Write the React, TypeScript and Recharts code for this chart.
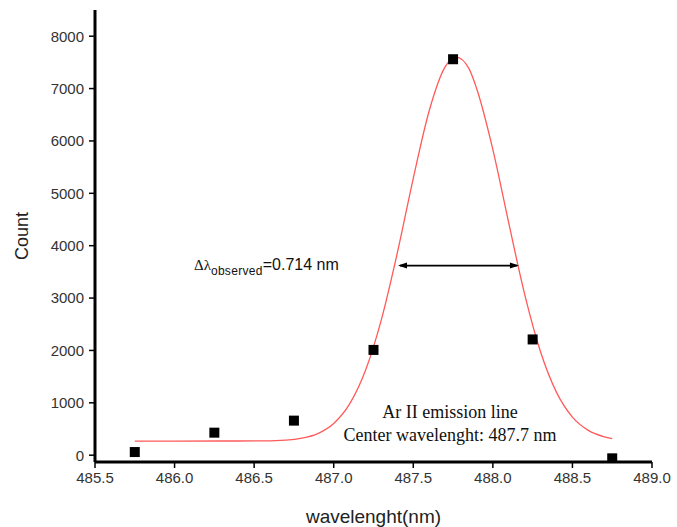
import React from 'react';
import {
  ComposedChart,
  Line,
  Scatter,
  XAxis,
  YAxis,
  ReferenceLine,
  Label,
} from 'recharts';

// measured intensities (black squares)
const wavelengths = [485.75, 486.25, 486.75, 487.25, 487.75, 488.25, 488.75];
const counts = [60, 430, 660, 2010, 7560, 2210, -60];

// gaussian fit
const fitX = [
  485.75, 486.0, 486.3, 486.5, 486.7, 486.8, 486.9, 487.0, 487.1, 487.2, 487.3, 487.4, 487.5,
  487.6, 487.7, 487.77, 487.85, 487.9, 488.0, 488.1, 488.2, 488.3, 488.4, 488.5, 488.6, 488.7, 488.75,
];
const fitY = [
  270, 270, 271, 272, 289, 325, 413, 605, 979, 1622, 2594, 3866, 5287,
  6577, 7415, 7600, 7380, 6983, 5836, 4430, 3071, 1970, 1200, 728, 474, 351, 315,
];

// FWHM marker
const fwhmStart = 487.404;
const fwhmEnd = 488.164;
const fwhmLevel = 3620;

const xTicks = [485.5, 486.0, 486.5, 487.0, 487.5, 488.0, 488.5, 489.0];
const yTicks = [0, 1000, 2000, 3000, 4000, 5000, 6000, 7000, 8000];

const measured = wavelengths.map((x, i) => ({ x, y: counts[i] }));
const fit = fitX.map((x, i) => ({ x, y: fitY[i] }));

const font = '"Liberation Sans", Arial, sans-serif';
const serif = '"Liberation Serif", "Times New Roman", serif';

const SquareDot = (props: any) => {
  const { cx, cy } = props;
  if (cx == null || cy == null) return null;
  return <rect x={cx - 5} y={cy - 5} width={10} height={10} fill="#000" />;
};

const ArrowLine = (props: any) => {
  const { x1, y1, x2, y2 } = props;
  if (x1 == null) return null;
  const h = 9;
  const w = 3;
  return (
    <g>
      <line x1={x1 + 2} y1={y1} x2={x2 - 2} y2={y2} stroke="#000" strokeWidth={1.8} />
      <polygon points={`${x1},${y1} ${x1 + h},${y1 - w} ${x1 + h},${y1 + w}`} fill="#000" />
      <polygon points={`${x2},${y2} ${x2 - h},${y2 - w} ${x2 - h},${y2 + w}`} fill="#000" />
    </g>
  );
};

export default function App() {
  return (
    <div style={{ position: 'absolute', left: 0, top: 0, width: 677, height: 527, background: '#fff', fontFamily: font }}>
      <ComposedChart
        width={677}
        height={527}
        margin={{ top: 10, right: 25, bottom: 0, left: 0 }}
      >
        <XAxis
          type="number"
          dataKey="x"
          domain={[485.5, 489.0]}
          ticks={xTicks}
          tickFormatter={(v: number) => v.toFixed(1)}
          allowDataOverflow
          height={65}
          stroke="#000"
          axisLine={{ stroke: '#000', strokeWidth: 3 }}
          tickLine={{ stroke: '#000', strokeWidth: 1.5 }}
          tickSize={6}
          tickMargin={4}
          tick={{ fill: '#333', fontSize: 15, fontFamily: font }}
        >
          <Label
            value="wavelenght(nm)"
            position="insideBottom"
            offset={4}
            fill="#222"
            style={{ fontSize: 19, fontFamily: font }}
          />
        </XAxis>
        <YAxis
          type="number"
          domain={[-130, 8500]}
          ticks={yTicks}
          allowDataOverflow
          width={95}
          stroke="#000"
          axisLine={{ stroke: '#000', strokeWidth: 3 }}
          tickLine={{ stroke: '#000', strokeWidth: 1.5 }}
          tickSize={6}
          tickMargin={5}
          tick={{ fill: '#333', fontSize: 15, fontFamily: font }}
        >
          <Label
            value="Count"
            angle={-90}
            position="insideLeft"
            offset={22}
            fill="#222"
            style={{ textAnchor: 'middle', fontSize: 18, fontFamily: font }}
          />
        </YAxis>
        <Line
          data={fit}
          dataKey="y"
          type="monotone"
          stroke="#ff5a5a"
          strokeWidth={1.3}
          dot={false}
          activeDot={false}
          isAnimationActive={false}
        />
        <Scatter data={measured} dataKey="y" shape={SquareDot} isAnimationActive={false} />
        <ReferenceLine
          segment={[
            { x: fwhmStart, y: fwhmLevel },
            { x: fwhmEnd, y: fwhmLevel },
          ]}
          shape={ArrowLine}
        />
      </ComposedChart>
      <div
        style={{
          position: 'absolute',
          left: 194,
          top: 255,
          fontSize: 16,
          color: '#111',
          whiteSpace: 'nowrap',
          lineHeight: '20px',
        }}
      >
        <span style={{ fontFamily: serif, fontSize: 15 }}>Δλ</span>
        <sub style={{ fontSize: 12, verticalAlign: -5, letterSpacing: 0.3 }}>observed</sub>
        <span>=0.714 nm</span>
      </div>
      <div
        style={{
          position: 'absolute',
          left: 300,
          width: 300,
          top: 401,
          textAlign: 'center',
          fontFamily: serif,
          fontSize: 18,
          lineHeight: '23px',
          color: '#111',
        }}
      >
        Ar II emission line
        <br />
        Center wavelenght: 487.7 nm
      </div>
    </div>
  );
}
